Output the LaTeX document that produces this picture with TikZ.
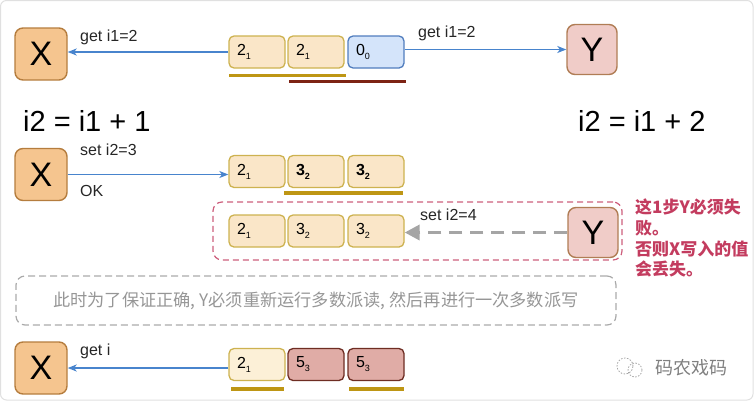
\documentclass[tikz,border=0pt]{standalone}
\usepackage{fontspec}
\setmainfont{Liberation Sans}
\newfontfamily\cjk{Noto Sans CJK SC}
\usetikzlibrary{arrows.meta}
\definecolor{xfill}{RGB}{245,197,143}
\definecolor{xline}{RGB}{181,125,62}
\definecolor{yfill}{RGB}{240,204,200}
\definecolor{yline}{RGB}{176,125,85}
\definecolor{cellfill}{RGB}{250,230,200}
\definecolor{cellfilltwo}{RGB}{252,240,215}
\definecolor{cellline}{RGB}{205,178,80}
\definecolor{bluefill}{RGB}{212,228,250}
\definecolor{blueline}{RGB}{80,125,190}
\definecolor{redfill}{RGB}{224,172,166}
\definecolor{redline}{RGB}{110,45,35}
\definecolor{goldline}{RGB}{190,150,20}
\definecolor{darkredline}{RGB}{125,35,20}
\definecolor{arrowblue}{RGB}{72,132,205}
\definecolor{grayarrow}{RGB}{165,165,165}
\definecolor{dashred}{RGB}{205,95,125}
\definecolor{redtext}{RGB}{195,60,95}
\definecolor{graytext}{RGB}{150,150,150}
\definecolor{graybox}{RGB}{170,170,170}
\newcommand\sbs[1]{\raisebox{-4pt}{\fontsize{9}{9}\selectfont #1}}
\begin{document}
\begin{tikzpicture}[x=1pt,y=-1pt,
  actorx/.style={draw=xline, fill=xfill, rounded corners=8pt, line width=1.4pt, minimum width=52pt, minimum height=52pt, inner sep=0pt, font=\fontsize{34}{34}\selectfont},
  actory/.style={draw=yline, fill=yfill, rounded corners=8pt, line width=1.4pt, minimum width=50pt, minimum height=50pt, inner sep=0pt, font=\fontsize{34}{34}\selectfont},
  cell/.style={draw=cellline, fill=cellfill, rounded corners=5pt, line width=1.3pt, minimum height=32pt, text width=40pt, align=left, inner xsep=8pt, inner ysep=0pt, font=\fontsize{16}{16}\selectfont},
  bluecell/.style={cell, draw=blueline, fill=bluefill},
  redcell/.style={cell, draw=redline, fill=redfill},
  lbl/.style={anchor=west, inner sep=0pt, font=\fontsize{16}{18}\selectfont, text=black!85},
  eqn/.style={anchor=west, inner sep=0pt, font=\fontsize{29}{30}\selectfont},
  conn/.style={draw=arrowblue, line width=1.3pt, -{Stealth[length=9pt,width=7pt,inset=2.5pt]}},
  grayconn/.style={draw=grayarrow, line width=3.5pt, dash pattern=on 13pt off 8pt, -{Triangle[length=15pt,width=15pt]}},
  goldbar/.style={draw=goldline, line width=3.5pt},
  darkbar/.style={draw=darkredline, line width=3.5pt},
  redtxt/.style={anchor=west, inner sep=0pt, text=redtext, font=\cjk\bfseries\fontsize{17}{20}\selectfont},
]
\useasboundingbox (0,0) rectangle (755,405);
\draw[black!12, line width=1pt, rounded corners=6pt] (0.5,0.5) rectangle (753,400);

% Row 1
\node[actorx] (X1) at (41,54) {X};
\node[actory] (Y1) at (592,49.5) {Y};
\node[cell] (c11) at (257,52) {2\sbs{1}};
\node[cell] (c12) at (316,52) {2\sbs{1}};
\node[bluecell] (c13) at (376,52) {0\sbs{0}};
\draw[conn] (c11.west) -- (c11.west -| X1.east);
\draw[conn] (c13.east |- Y1.west) -- (Y1.west);
\node[lbl] (l1) at (80,37) {get i1=2};
\node[lbl] (l2) at (418,33) {get i1=2};
\draw[goldbar] ([xshift=1pt,yshift=-7pt]c11.south west) -- ([xshift=1pt,yshift=-7pt]c12.south east);
\draw[darkbar] ([xshift=2pt,yshift=-13pt]c12.south west) -- ([xshift=1pt,yshift=-13pt]c13.south east);

% equations
\node[eqn] (e1) at (23,121) {i2 = i1 + 1};
\node[eqn] (e2) at (578,121) {i2 = i1 + 2};

% Row 2
\node[actorx] (X2) at (41,174.5) {X};
\node[cell] (c21) at (257,171.5) {2\sbs{1}};
\node[cell] (c22) at (316,171.5) {\textbf{3}\sbs{\textbf{2}}};
\node[cell] (c23) at (376,171.5) {\textbf{3}\sbs{\textbf{2}}};
\draw[conn] (X2.east) -- (X2.east -| c21.west);
\node[lbl] (l3) at (80,150) {set i2=3};
\node[lbl] (l4) at (80,191) {OK};
\draw[goldbar] ([xshift=-3pt,yshift=-5pt]c22.south west) -- ([xshift=-2pt,yshift=-5pt]c23.south east);

% Row 3
\node[draw=dashred, line width=1.2pt, dash pattern=on 6pt off 4pt, rounded corners=9pt, minimum width=409pt, minimum height=58pt, inner sep=0pt] (rbox) at (417.5,231) {};
\node[cell] (c31) at (257,231) {2\sbs{1}};
\node[cell] (c32) at (316,231) {3\sbs{2}};
\node[cell] (c33) at (376,231) {3\sbs{2}};
\node[actory] (Y3) at (593,232.5) {Y};
\draw[grayconn] (Y3.west) -- (Y3.west -| c33.east);
\node[lbl] (l5) at (420,215) {set i2=4};
\node[redtxt] (r1) at (635,207) {这1步Y必须失};
\node[redtxt] (r2) at (635,228) {败。};
\node[redtxt] (r3) at (635,249) {否则X写入的值};
\node[redtxt] (r4) at (635,269) {会丢失。};

% gray note
\node[draw=graybox, line width=1.2pt, dash pattern=on 7pt off 4pt, rounded corners=9pt, minimum width=600pt, minimum height=49pt, inner sep=0pt, text=graytext, font=\cjk\fontsize{17.2}{18}\selectfont] (note) at (316,300.5) {此时为了保证正确, Y必须重新运行多数派读, 然后再进行一次多数派写};

% Row 4
\node[actorx] (X4) at (41,368) {X};
\node[cell, fill=cellfilltwo] (c41) at (257,364.5) {2\sbs{1}};
\node[redcell] (c42) at (316,364.5) {5\sbs{3}};
\node[redcell] (c43) at (376,364.5) {5\sbs{3}};
\draw[conn] (X4.east -| c41.west) -- (X4.east);
\node[lbl] (l6) at (80,351) {get i};
\draw[goldbar] ([xshift=3pt,yshift=-8pt]c41.south west) -- ([xshift=-2pt,yshift=-8pt]c41.south east);
\draw[goldbar] ([xshift=2pt,yshift=-8pt]c43.south west) -- ([xshift=-1pt,yshift=-8pt]c43.south east);

% watermark
\draw[black!35, line width=0.8pt, dash pattern=on 1.5pt off 1.5pt] (625,366) circle (8pt);
\draw[black!35, line width=0.8pt, dash pattern=on 1.5pt off 1.5pt] (635,370) circle (7pt);
\node[anchor=west, inner sep=0pt, text=black!50, font=\cjk\fontsize{18}{20}\selectfont] (wm) at (655,368) {码农戏码};
\end{tikzpicture}
\end{document}
